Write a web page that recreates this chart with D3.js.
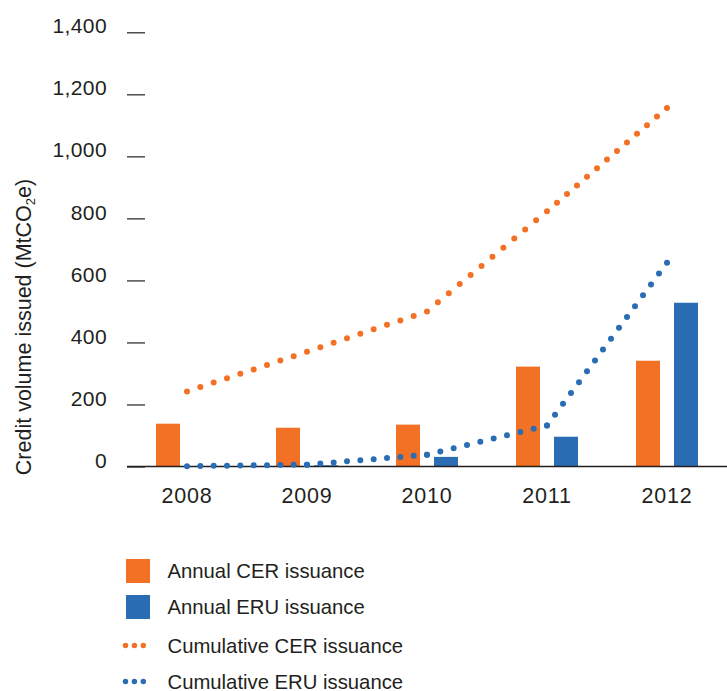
<!DOCTYPE html>
<html>
<head>
<meta charset="utf-8">
<script src="https://cdn.jsdelivr.net/npm/d3@7"></script>
<style>
  html, body { margin: 0; padding: 0; background: #fff; }
  svg { display: block; }
  text { font-family: "Liberation Sans", Arial, Helvetica, sans-serif; fill: #231f20; }
</style>
</head>
<body>
<svg id="chart" width="727" height="691"></svg>
<script>
// ---- Data ----
const years = ["2008", "2009", "2010", "2011", "2012"];
const annualCER = [138, 125, 135, 322, 341];
const annualERU = [0, 4, 31, 96, 528];
const cumulativeCER = [242, 370, 500, 823, 1156];
const cumulativeERU = [1, 6, 38, 132, 657];
const yTicks = [0, 200, 400, 600, 800, 1000, 1200, 1400];
const seriesNames = ["Annual CER issuance", "Annual ERU issuance", "Cumulative CER issuance", "Cumulative ERU issuance"];

const ORANGE = "#f37124";
const BLUE = "#2a6db5";

const svg = d3.select("#chart");

const y = d3.scaleLinear().domain([0, 1400]).range([466.5, 32.3]);
const x = d3.scaleBand().domain(years).range([127, 727]).padding(0);
const cx = d => x(d) + x.bandwidth() / 2;
const x1 = d3.scaleBand().domain(["CER", "ERU"]).range([-31, 31]).paddingInner(14 / 38).paddingOuter(0);

// Y axis (short ticks, no domain)
const yAxis = d3.axisLeft(y).tickValues(yTicks).tickSize(18).tickPadding(20)
  .tickFormat(d3.format(","));
const gy = svg.append("g").attr("transform", "translate(145,0)").call(yAxis);
gy.select(".domain").remove();
gy.selectAll(".tick line").attr("stroke", "#231f20").attr("stroke-width", 1.2);
gy.selectAll(".tick text").attr("font-size", 21).attr("fill", "#231f20")
  .attr("font-family", "Liberation Sans, Arial, sans-serif").attr("letter-spacing", 0.4)
  .attr("dy", "0.03em");

// Y axis title
const title = svg.append("text")
  .attr("transform", "translate(31,327) rotate(-90)")
  .attr("text-anchor", "middle")
  .attr("font-size", 21.5);
title.append("tspan").text("Credit volume issued (MtCO");
title.append("tspan").attr("font-size", 13).attr("dy", 4).text("2");
title.append("tspan").attr("dy", -4).text("e)");

// Bars
const barData = [];
years.forEach((yr, i) => {
  barData.push({ year: yr, key: "CER", value: annualCER[i] });
  barData.push({ year: yr, key: "ERU", value: annualERU[i] });
});
svg.append("g").selectAll("rect").data(barData.filter(d => d.value > 0)).join("rect")
  .attr("x", d => cx(d.year) + x1(d.key))
  .attr("width", x1.bandwidth())
  .attr("y", d => y(d.value))
  .attr("height", d => y(0) - y(d.value))
  .attr("fill", d => d.key === "CER" ? ORANGE : BLUE);

// Baseline
svg.append("line")
  .attr("x1", 127).attr("x2", 727)
  .attr("y1", y(0)).attr("y2", y(0))
  .attr("stroke", "#231f20").attr("stroke-width", 1.6);

// X axis labels
const xAxis = d3.axisBottom(x).tickSize(0).tickPadding(0);
const gx = svg.append("g").attr("transform", "translate(0,487.5)").call(xAxis);
gx.select(".domain").remove();
gx.selectAll(".tick text").attr("font-size", 21.5).attr("fill", "#231f20")
  .attr("font-family", "Liberation Sans, Arial, sans-serif").attr("letter-spacing", 0.8)
  .attr("dy", "0.71em");

// Dotted cumulative lines (segment by segment, dots at both ends)
const line = d3.line().x(d => cx(d.year)).y(d => y(d.value));
function drawDotted(values, color) {
  const pts = years.map((yr, i) => ({ year: yr, value: values[i] }));
  const segs = d3.pairs(pts);
  svg.append("g").selectAll("path").data(segs).join("path")
    .attr("d", line)
    .attr("fill", "none")
    .attr("stroke", color)
    .attr("stroke-width", 6)
    .attr("stroke-linecap", "round")
    .each(function () {
      const L = this.getTotalLength();
      const n = Math.max(1, Math.round(L / 13.6));
      d3.select(this).attr("stroke-dasharray", `0 ${L / n}`);
    });
}
drawDotted(cumulativeCER, ORANGE);
drawDotted(cumulativeERU, BLUE);

// Legend
const legend = svg.append("g");
const rowY = [571, 607, 645.5, 681.5];
seriesNames.forEach((name, i) => {
  const color = (i % 2 === 0) ? ORANGE : BLUE;
  if (i < 2) {
    legend.append("rect").attr("x", 126).attr("y", rowY[i] - 12)
      .attr("width", 24).attr("height", 24).attr("fill", color);
  } else {
    legend.append("path").attr("d", `M125.5,${rowY[i]}H152.2`)
      .attr("stroke", color).attr("stroke-width", 5.5)
      .attr("stroke-linecap", "round").attr("stroke-dasharray", "0 8.9");
  }
  legend.append("text").attr("x", 167.5).attr("y", rowY[i] + 7)
    .attr("font-size", 20.3).text(name);
});
</script>
</body>
</html>
